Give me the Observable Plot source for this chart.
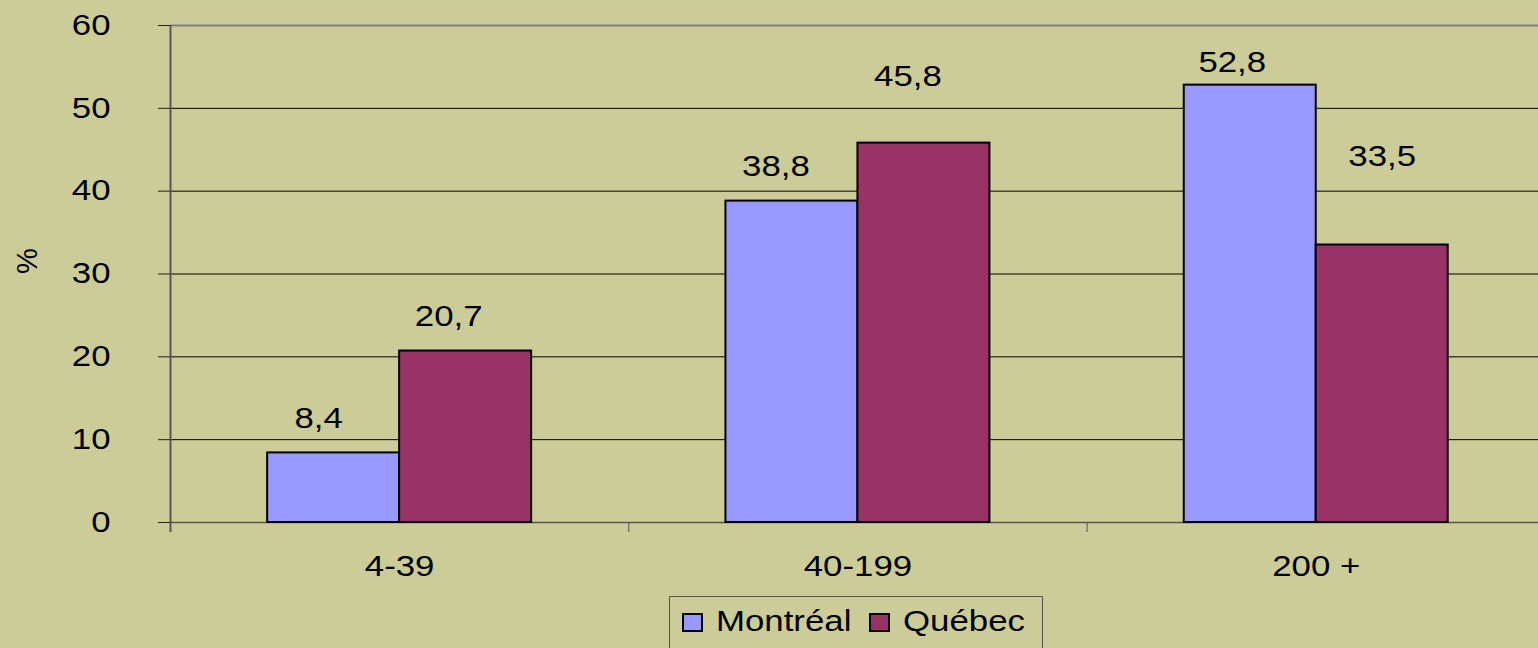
<!DOCTYPE html>
<html><head><meta charset="utf-8">
<script src="https://cdn.jsdelivr.net/npm/d3@7"></script>
<script src="https://cdn.jsdelivr.net/npm/@observablehq/plot@0.6"></script>
<style>
html,body{margin:0;padding:0;background:#CCCC99;overflow:hidden}
#chart svg{display:block}
.legend{margin-left:669px;width:374px;height:70px;border:1px solid #555;box-sizing:border-box;position:relative;font-family:"Liberation Sans",Arial,sans-serif;font-size:29px;color:#000}
.legend .sw{position:absolute;top:16px;width:21px;height:19px;border:2px solid #000;box-sizing:border-box}
.legend .lb{position:absolute;top:10px;line-height:1;white-space:nowrap;transform:scaleX(1.2);transform-origin:left center}
</style></head><body>
<div id="chart"></div>
<script>
const categories = ["4-39", "40-199", "200 +"];
const seriesNames = ["Montréal", "Québec"];
const montreal = [8.4, 38.8, 52.8];
const quebec = [20.7, 45.8, 33.5];
const yTicks = [0, 10, 20, 30, 40, 50, 60];
const colors = ["#9999FF", "#993366"];

const barW = 0.288;
const seriesValues = [montreal, quebec];
const rows = categories.flatMap((c, i) => seriesNames.map((s, k) => ({
  category: c, series: s, value: seriesValues[k][i],
  x1: i + 0.5 + (k - 1) * barW, x2: i + 0.5 + k * barW
})));
// label pixel nudges (style)
const nudges = {
  "4-39|Montréal": [-15, -34], "4-39|Québec": [-17, -34],
  "40-199|Montréal": [-16, -34], "40-199|Québec": [-16, -66],
  "200 +|Montréal": [-18, -22], "200 +|Québec": [0, -88]
};
const fmt = v => v.toFixed(1).replace(".", ",");
const FS = 29;

const plot = Plot.plot({
  width: 1538, height: 596,
  marginLeft: 170, marginRight: 0, marginTop: 25, marginBottom: 74,
  style: {background: "#CCCC99", fontFamily: "'Liberation Sans', Arial, sans-serif", color: "#000"},
  x: {domain: [0, 2.985]},
  y: {domain: [0, 60]},
  color: {domain: seriesNames, range: colors},
  marks: [
    Plot.ruleY(yTicks.filter(v => v > 0 && v < 60), {stroke: "#000", strokeWidth: 1}),
    Plot.ruleY([60], {stroke: "#808080", strokeWidth: 2}),
    Plot.ruleY([0], {stroke: "#555", strokeWidth: 1.5}),
    Plot.rect(rows, {x1: "x1", x2: "x2", y1: () => 0, y2: "value", fill: "series", stroke: "#000", strokeWidth: 2}),
    Plot.ruleX([0], {stroke: "#555", strokeWidth: 2, insetBottom: -10}),
    Plot.axisY({ticks: yTicks, tickSize: 12, tickPadding: 48, fontSize: FS, label: null, tickFormat: d => String(d), stroke: "#222"}),
    Plot.axisX({ticks: [0, 1, 2], tickSize: 10, tickFormat: () => "", stroke: "#555", label: null}),
    Plot.axisX({ticks: categories.map((c, i) => i + 0.5), tickSize: 0, tickPadding: 33, fontSize: FS, label: null,
      tickFormat: v => categories[Math.floor(v)]}),
    ...rows.map(r => {
      const [dx, dy] = nudges[r.category + "|" + r.series];
      return Plot.text([r], {x: d => (d.x1 + d.x2) / 2, y: "value", text: d => fmt(d.value), dx, dy, fontSize: FS, fill: "#000"});
    }),
    Plot.text(["%"], {frameAnchor: "left", dx: -143, rotate: -90, fontSize: FS, fill: "#000"})
  ]
});
document.getElementById("chart").appendChild(plot);
plot.querySelectorAll("text").forEach(t => {
  if (t.textContent === "%" || !t.textContent) return;
  const L = t.getComputedTextLength();
  t.setAttribute("textLength", L * 1.2);
  t.setAttribute("lengthAdjust", "spacingAndGlyphs");
});

const legend = document.createElement("div");
legend.className = "legend";
const pos = [[12, 46], [199, 233]];
seriesNames.forEach((s, k) => {
  const sw = document.createElement("div");
  sw.className = "sw"; sw.style.left = pos[k][0] + "px"; sw.style.background = colors[k];
  const lb = document.createElement("span");
  lb.className = "lb"; lb.style.left = pos[k][1] + "px"; lb.textContent = s;
  legend.appendChild(sw); legend.appendChild(lb);
});
document.body.appendChild(legend);
</script>
</body></html>
